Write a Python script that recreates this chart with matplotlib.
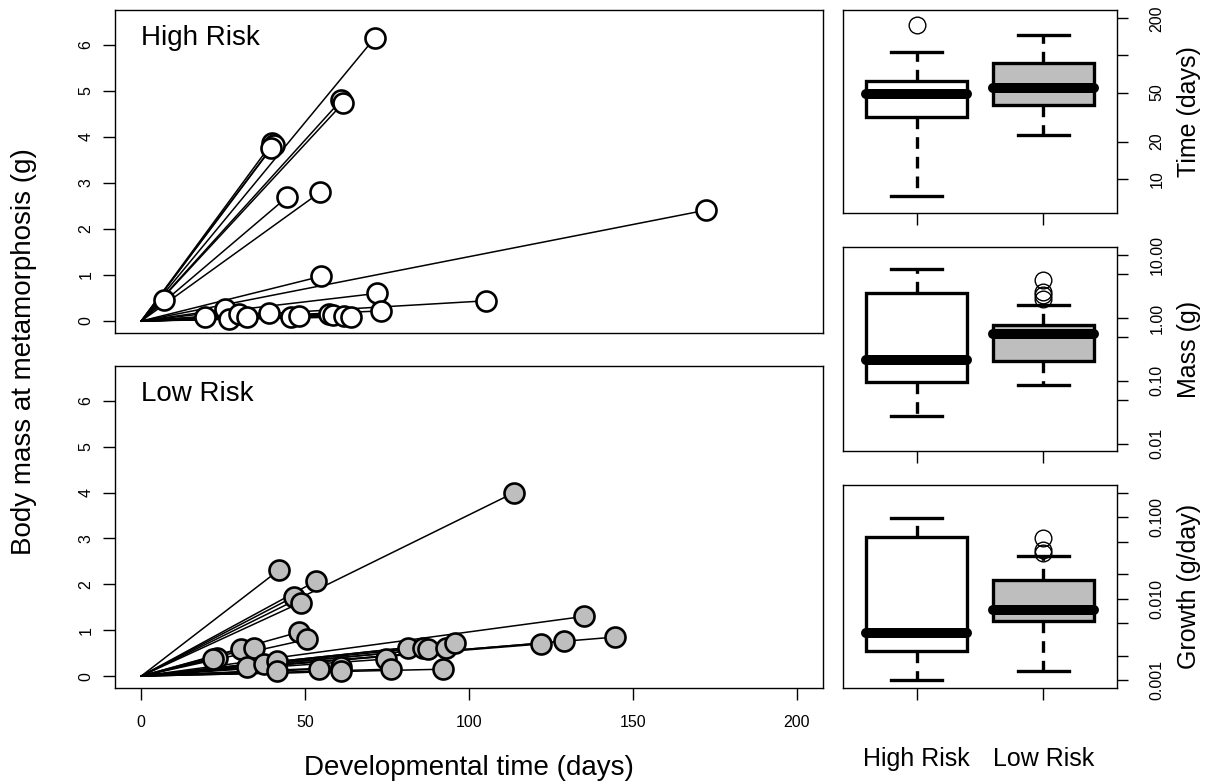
import matplotlib
matplotlib.use('Agg')
import matplotlib.pyplot as plt
from matplotlib.ticker import NullLocator

plt.rcParams['font.family'] = ['Liberation Sans', 'DejaVu Sans']

# tadpoles raised under high predation risk: time to metamorphosis (days), mass (g)
high_time = [71.2, 61.0, 61.5, 40.0, 40.5, 39.6, 54.6, 44.6, 172.3, 54.8, 7.0, 71.8, 105.3,
             73.3, 19.5, 25.7, 26.8, 29.8, 32.3, 39.0, 45.6, 48.2, 57.4, 58.5, 62.0, 64.0]
high_mass = [6.15, 4.80, 4.73, 3.88, 3.83, 3.76, 2.80, 2.70, 2.41, 0.97, 0.46, 0.60, 0.44,
             0.22, 0.09, 0.26, 0.05, 0.16, 0.09, 0.18, 0.08, 0.11, 0.15, 0.13, 0.12, 0.09]

# low predation risk
low_time = [42.0, 53.3, 46.6, 48.6, 113.8, 48.2, 50.7, 23.1, 22.0, 30.3, 34.4, 32.3, 37.4, 41.5, 41.5,
            54.3, 61.0, 60.8, 74.7, 76.2, 81.4, 86.0, 87.5, 93.1, 95.7, 92.1, 135.0, 122.0, 129.0, 144.5]
low_mass = [2.31, 2.07, 1.73, 1.60, 4.00, 0.96, 0.80, 0.40, 0.38, 0.59, 0.62, 0.19, 0.26, 0.33, 0.12,
            0.15, 0.19, 0.10, 0.37, 0.15, 0.62, 0.62, 0.58, 0.62, 0.73, 0.15, 1.30, 0.70, 0.76, 0.85]

groups = ['High Risk', 'Low Risk']

# box summaries: whisker low, Q1, median, Q3, whisker high
time_high = [7.2, 31.9, 48.5, 62.2, 106.0]
time_low = [22.6, 39.5, 54.2, 87.5, 146.6]
time_out = [[176.0], []]
mass_high = [0.028, 0.096, 0.212, 2.54, 6.13]
mass_low = [0.085, 0.205, 0.565, 0.786, 1.6]
mass_out = [[], [4.0, 2.6, 2.3, 2.05]]
growth_high = [0.00102, 0.00226, 0.0038, 0.0569, 0.097]
growth_low = [0.00131, 0.00527, 0.00733, 0.0171, 0.0336]
growth_out = [[], [0.0553, 0.0398, 0.0365]]

fills = ['white', '#BEBEBE']

W, H = 1209, 781
fig = plt.figure(figsize=(W / 100, H / 100), dpi=100)


def rect(x0, y0, x1, y1):
    # pixel box (top-left origin) -> figure fraction
    return [x0 / W, 1 - y1 / H, (x1 - x0) / W, (y1 - y0) / H]


def scatter_panel(ax, t, m, fill, title, show_x):
    for ti, mi in zip(t, m):
        ax.plot([0, ti], [0, mi], color='black', lw=1.1, zorder=2)
    ax.plot(t, m, 'o', ls='none', ms=14.4, mfc=fill, mec='black', mew=1.9, zorder=3)
    ax.set_xlim(-8, 208)
    ax.set_ylim(-0.26, 6.76)
    ax.set_yticks(range(7))
    ax.tick_params(axis='y', length=8.5, width=1, pad=7, labelsize=11.5)
    for lbl in ax.get_yticklabels():
        lbl.set_rotation(90)
        lbl.set_va('center')
    if show_x:
        ax.set_xticks([0, 50, 100, 150, 200])
        ax.tick_params(axis='x', length=8.5, width=1, pad=11, labelsize=11.5)
    else:
        ax.tick_params(axis='x', bottom=False, labelbottom=False)
    ax.text(0, 6.0, title, fontsize=20, va='baseline', ha='left')
    for s in ax.spines.values():
        s.set_linewidth(1.0)


def box_panel(ax, lo_hi, outs, ylim, ticks, labels, show_x):
    stats = []
    for s, o in zip(lo_hi, outs):
        stats.append(dict(whislo=s[0], q1=s[1], med=s[2], q3=s[3], whishi=s[4], fliers=o))
    b = ax.bxp(stats, positions=[1, 2], widths=0.8, capwidths=0.4, patch_artist=True,
               boxprops=dict(linewidth=2.4, edgecolor='black'),
               whiskerprops=dict(linewidth=2.4, color='black', linestyle=(0, (3.5, 2.4))),
               capprops=dict(linewidth=2.4, color='black'),
               medianprops=dict(linewidth=7.2, color='black', solid_capstyle='round', zorder=4),
               flierprops=dict(marker='o', ms=12, mfc='none', mec='black', mew=1.0))
    for patch, c in zip(b['boxes'], fills):
        patch.set_facecolor(c)
    ax.set_yscale('log')
    ax.set_ylim(*ylim)
    ax.set_xlim(0.42, 2.58)
    ax.set_yticks(ticks)
    ax.yaxis.set_minor_locator(NullLocator())
    ax.tick_params(axis='y', which='both', left=False, labelleft=False, right=True, labelright=False,
                   length=8, width=1)
    # right-hand tick labels, written parallel to the axis
    for v, lab in zip(ticks, labels):
        if lab:
            ax.text(1.146, v, lab, transform=ax.get_yaxis_transform(), rotation=90,
                    ha='center', va='center', fontsize=11.5)
    ax.set_xticks([1, 2])
    if show_x:
        ax.set_xticklabels(groups, fontsize=18)
        ax.tick_params(axis='x', length=8.5, width=1, pad=34)
    else:
        ax.set_xticklabels(['', ''])
        ax.tick_params(axis='x', length=8.5, width=1)
    for s in ax.spines.values():
        s.set_linewidth(1.0)


ax_hi = fig.add_axes(rect(115, 10, 823, 333))
scatter_panel(ax_hi, high_time, high_mass, 'white', 'High Risk', False)
ax_lo = fig.add_axes(rect(115, 366, 823, 688))
scatter_panel(ax_lo, low_time, low_mass, '#BEBEBE', 'Low Risk', True)

ax_t = fig.add_axes(rect(843, 10, 1117, 213))
box_panel(ax_t, [time_high, time_low], time_out, (5.27, 233.6),
          [10, 20, 50, 100, 200], ['10', '20', '50', '', '200'], False)
ax_m = fig.add_axes(rect(843, 247, 1117, 451))
box_panel(ax_m, [mass_high, mass_low], mass_out, (0.00763, 13.6),
          [0.01, 0.05, 0.1, 0.5, 1, 5, 10], ['0.01', '', '0.10', '', '1.00', '', '10.00'], False)
ax_g = fig.add_axes(rect(843, 485, 1117, 688))
box_panel(ax_g, [growth_high, growth_low], growth_out, (0.000805, 0.249),
          [0.001, 0.002, 0.005, 0.01, 0.02, 0.05, 0.1, 0.2],
          ['0.001', '', '', '0.010', '', '', '0.100', ''], True)

fig.text(24 / W, 1 - 352 / H, 'Body mass at metamorphosis (g)', rotation=90,
         ha='center', va='center', fontsize=20)
fig.text(469 / W, 1 - 768 / H, 'Developmental time (days)', ha='center', va='center', fontsize=20)
fig.text(1189 / W, 1 - 111.5 / H, 'Time (days)', rotation=90, ha='center', va='center', fontsize=18)
fig.text(1189 / W, 1 - 349 / H, 'Mass (g)', rotation=90, ha='center', va='center', fontsize=18)
fig.text(1189 / W, 1 - 586.5 / H, 'Growth (g/day)', rotation=90, ha='center', va='center', fontsize=18)

fig.savefig('out.png', dpi=100)
